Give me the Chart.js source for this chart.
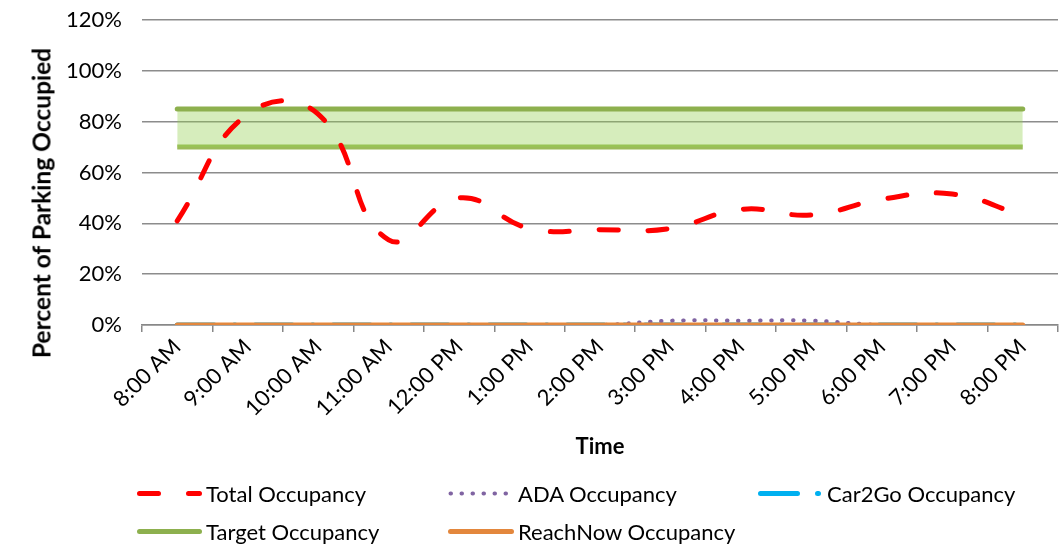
<!DOCTYPE html>
<html><head><meta charset="utf-8">
<script src="https://cdn.jsdelivr.net/npm/chart.js@4/dist/chart.umd.min.js"></script>
<style>
html,body{margin:0;padding:0;background:#fff;}
#wrap{position:relative;width:1059px;height:546px;font-family:Lato,"Open Sans",sans-serif;color:#000;}
#c{position:absolute;left:0;top:0;}
#ytitle{position:absolute;left:41px;top:203px;transform:translate(-50%,-50%) rotate(-90deg);font-weight:bold;font-size:24.5px;white-space:nowrap;}
.leg{position:absolute;display:flex;align-items:center;font-size:22px;white-space:nowrap;transform:translateY(-50%);}
.leg svg{margin-right:4px;}
</style></head>
<body><div id="wrap">
<canvas id="c" width="1059" height="546"></canvas>
<div id="ytitle">Percent of Parking Occupied</div>
<div id="legend"></div>
</div>
<script>
const categories = ["8:00 AM","9:00 AM","10:00 AM","11:00 AM","12:00 PM","1:00 PM","2:00 PM","3:00 PM","4:00 PM","5:00 PM","6:00 PM","7:00 PM","8:00 PM"];
const totalOccupancy = [41, 83, 83, 33.5, 50, 38, 37.5, 38, 45.5, 43.3, 49.5, 51.5, 43];
const adaOccupancy = [0, 0, 0, 0, 0, 0, 0, 1.7, 1.7, 1.7, 0, 0, 0];
const car2goOccupancy = [0, 0, 0, 0, 0, 0, 0, 0, 0, 0, 0, 0, 0];
const reachNowOccupancy = [0, 0, 0, 0, 0, 0, 0, 0, 0, 0, 0, 0, 0];
const targetUpper = [85, 85, 85, 85, 85, 85, 85, 85, 85, 85, 85, 85, 85];
const targetLower = [70, 70, 70, 70, 70, 70, 70, 70, 70, 70, 70, 70, 70];
const yTicks = [0, 20, 40, 60, 80, 100, 120];

const FONT = "Lato, 'Open Sans', sans-serif";
const RED = "#FF0000", PURPLE = "#8064A2", BLUE = "#00B0F0", GREEN = "#9BBB59", GREEN_D = "#8DB04E", ORANGE = "#E3873D";

const chart = new Chart(document.getElementById('c'), {
  type: 'line',
  data: {
    labels: categories,
    datasets: [
      {label:'Total Occupancy', data: totalOccupancy, borderColor: RED, borderWidth: 5, borderDash:[19,30], borderCapStyle:'round', tension:0.45, pointRadius:0, order:0, fill:false},
      {label:'ADA Occupancy', data: adaOccupancy, borderColor: PURPLE, borderWidth: 4, borderDash:[0.5,10.5], borderCapStyle:'round', tension:0.4, pointRadius:0, order:2, fill:false},
      {label:'Car2Go Occupancy', data: car2goOccupancy, borderColor: BLUE, borderWidth: 5, borderDash:[37,20,1,20], borderCapStyle:'round', tension:0, pointRadius:0, order:3, fill:false},
      {label:'Target Occupancy', data: targetUpper, borderColor: GREEN_D, borderWidth: 5, borderCapStyle:'round', tension:0, pointRadius:0, order:5, fill:{target:5}, backgroundColor:'rgba(146,208,80,0.38)'},
      {label:'ReachNow Occupancy', data: reachNowOccupancy, borderColor: ORANGE, borderWidth: 5, borderCapStyle:'round', tension:0, pointRadius:0, order:1, fill:false},
      {label:'Target Lower', data: targetLower, borderColor: GREEN, borderWidth: 5, tension:0, pointRadius:0, order:6, fill:false}
    ]
  },
  options: {
    responsive:false, animation:false, devicePixelRatio:1,
    layout:{padding:{top:20,right:1,left:0,bottom:0}},
    plugins:{legend:{display:false}, tooltip:{enabled:false}},
    scales:{
      x:{
        offset:true,
        afterFit:(s)=>{s.height = 221;},
        grid:{display:true, offset:true, drawOnChartArea:false, drawTicks:true, tickLength:7, color:'#888', lineWidth:1.5},
        border:{display:true, color:'#888', width:1.5},
        ticks:{minRotation:45, maxRotation:45, autoSkip:false, color:'#000', font:{family:FONT, size:22}, padding:2},
        title:{display:true, text:'Time', color:'#000', font:{family:FONT, size:22, weight:'bold'}, padding:{top:0,bottom:86}}
      },
      y:{
        min:0, max:120,
        afterFit:(s)=>{s.width = 142;},
        afterBuildTicks:(s)=>{s.ticks = yTicks.map(v=>({value:v}));},
        grid:{color:'#8c8c8c', lineWidth:1.5, drawTicks:true, tickLength:17, tickColor:'rgba(0,0,0,0)'},
        border:{display:false},
        ticks:{color:'#000', padding:3, font:{family:FONT, size:22}, callback:(v)=>v+'%'}
      }
    }
  }
});

const legendItems = [
  {ds:0, x:137, y:493, tx:206},
  {ds:1, x:448, y:493, tx:518},
  {ds:2, x:758, y:493, tx:827},
  {ds:3, x:137, y:531, tx:206},
  {ds:4, x:448, y:531, tx:518}
];
const legendEl = document.getElementById('legend');
legendItems.forEach(it=>{
  const d = chart.data.datasets[it.ds];
  const w = it.tx - it.x - 4;
  const div = document.createElement('div');
  div.className = 'leg';
  div.style.left = it.x + 'px';
  div.style.top = it.y + 'px';
  const dash = d.borderDash ? d.borderDash.join(' ') : 'none';
  div.innerHTML = `<svg width="${w}" height="12"><line x1="2.5" y1="6" x2="${w-2.5}" y2="6" stroke="${d.borderColor}" stroke-width="${d.borderWidth}" stroke-linecap="round" stroke-dasharray="${dash}"/></svg><span>${d.label}</span>`;
  legendEl.appendChild(div);
});
</script>
</body></html>
